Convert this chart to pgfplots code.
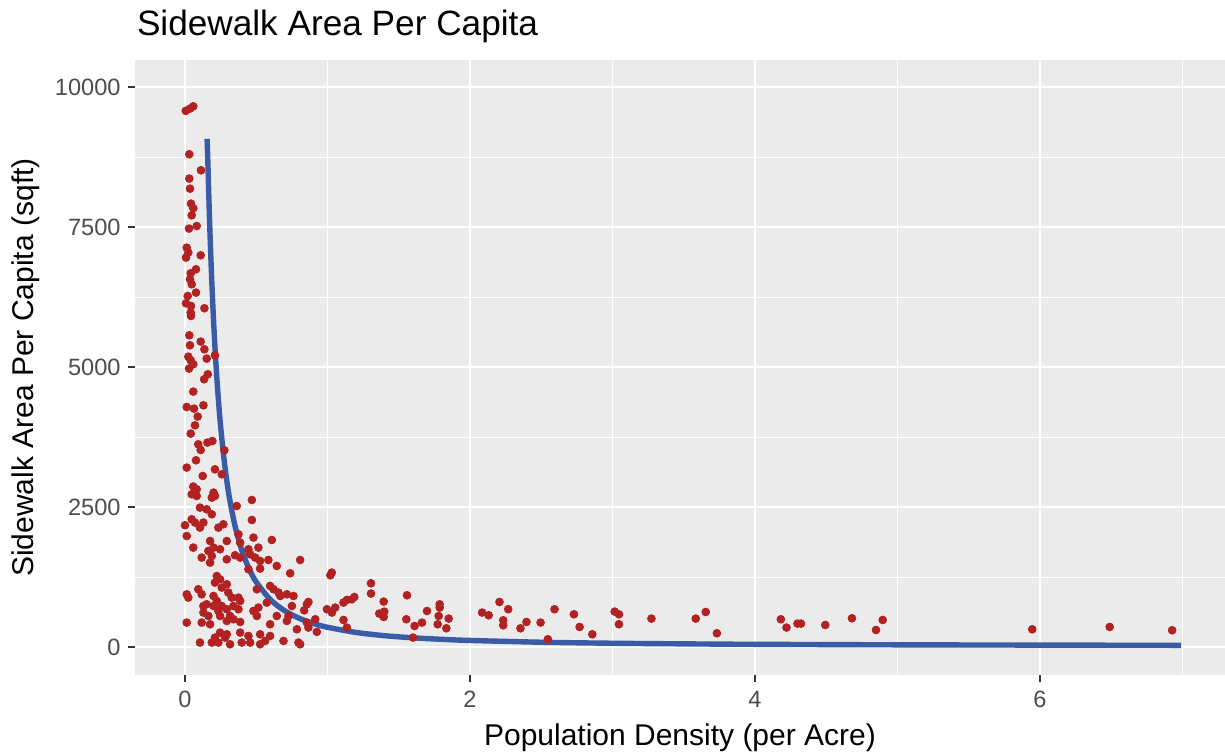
\documentclass[border=0pt]{standalone}
\usepackage{fontspec}
\setmainfont{Liberation Sans}
\usepackage{pgfplots}
\pgfplotsset{compat=1.18}
\definecolor{panelgray}{HTML}{EBEBEB}
\definecolor{ticklab}{HTML}{4D4D4D}
\definecolor{tickcol}{HTML}{333333}
\definecolor{ptred}{HTML}{B22222}
\definecolor{fitblue}{HTML}{3A5BA6}
\begin{document}
\begin{tikzpicture}
\path[use as bounding box] (0,0) rectangle (612.5pt,376.5pt);
\node[anchor=base west, inner sep=0pt, font=\fontsize{17.6}{20}\selectfont] at (68.3pt,358.5pt) {Sidewalk Area Per Capita};
\begin{axis}[
  at={(67.5pt,39pt)}, anchor=south west,
  scale only axis, width=545pt, height=307.5pt,
  xmin=-0.351, xmax=7.298, ymin=-495, ymax=10488,
  scaled x ticks=false, scaled y ticks=false,
  axis background/.style={fill=panelgray},
  axis line style={draw=none},
  xtick={0,2,4,6}, xticklabels={0,2,4,6},
  ytick={0,2500,5000,7500,10000}, yticklabels={0,2500,5000,7500,10000},
  minor xtick={1,3,5,7}, minor ytick={1250,3750,6250,8750},
  grid=both,
  major grid style={white, line width=1.1pt},
  minor grid style={white, line width=0.55pt},
  tick pos=left, tick align=outside,
  major tick length=0pt, minor tick length=0pt,
  tick style={draw=none},
  xticklabel style={font=\fontsize{11.8}{13}\selectfont, text=ticklab, anchor=north, inner sep=0pt, yshift=-7.8pt},
  yticklabel style={font=\fontsize{11.8}{13}\selectfont, text=ticklab, anchor=east, inner sep=0pt, xshift=-7pt},
  every axis x label/.style={at={(axis description cs:0.5,-0.1154)}, anchor=base, inner sep=0pt, font=\fontsize{15}{17}\selectfont},
  every axis y label/.style={at={(axis description cs:-0.0927,0.5)}, rotate=90, anchor=base, inner sep=0pt, font=\fontsize{15}{17}\selectfont},
  xlabel={Population Density (per Acre)},
  ylabel={Sidewalk Area Per Capita (sqft)},
  clip=false,
]
\pgfplotsinvokeforeach{0,2,4,6}{\draw[tickcol, line width=1pt] (axis cs:#1,-495) -- (axis cs:#1,-624);}
\pgfplotsinvokeforeach{0,2500,5000,7500,10000}{\draw[tickcol, line width=1pt] (axis cs:-0.351,#1) -- (axis cs:-0.4015,#1);}
\addplot[only marks, mark=*, mark size=1.95pt, color=ptred, mark options={draw=ptred, fill=ptred}] coordinates {
(0.005,9580) (0.035,9620) (0.058,9660) (0.03,8804) (0.112,8518) (0.03,8370) (0.035,8190) (0.042,7923)
(0.058,7840) (0.047,7714) (0.028,7477) (0.082,7523) (0.012,7137) (0.023,7048) (0.007,6959) (0.11,7000)
(0.077,6750) (0.04,6679) (0.035,6571) (0.047,6482) (0.077,6334) (0.019,6273) (0.007,6143) (0.042,6095)
(0.04,5977) (0.042,5917) (0.136,6054) (0.03,5571) (0.11,5459) (0.035,5393) (0.136,5321) (0.152,5155)
(0.21,5214) (0.023,5190) (0.04,5125) (0.058,5054) (0.028,4977) (0.16,4875) (0.134,4786) (0.058,4566)
(0.012,4291) (0.063,4262) (0.129,4321) (0.089,4120) (0.07,3964) (0.04,3816) (0.093,3625) (0.11,3523)
(0.157,3655) (0.192,3684) (0.276,3518) (0.077,3339) (0.012,3209) (0.21,3178) (0.258,3089) (0.124,3059)
(0.058,2870) (0.082,2821) (0.047,2732) (0.082,2702) (0.2,2762) (0.21,2702) (0.188,2673) (0.469,2630)
(0.363,2523) (0.105,2494) (0.152,2464) (0.188,2375) (0.047,2286) (0.07,2227) (0.105,2137) (0.129,2227)
(0.0,2179) (0.012,1987) (0.234,2137) (0.269,2196) (0.469,2273) (0.375,2018) (0.48,1959) (0.609,1916)
(0.058,1780) (0.176,1898) (0.2,1780) (0.246,1750) (0.164,1720) (0.293,1898) (0.387,1869) (0.445,1750)
(0.515,1780) (0.117,1602) (0.176,1512) (0.188,1630) (0.293,1571) (0.351,1643) (0.387,1602) (0.457,1661)
(0.492,1602) (0.527,1541) (0.585,1559) (0.808,1559) (0.644,1452) (0.527,1405) (0.445,1393) (0.738,1321)
(1.03,1334) (1.02,1286) (0.223,1273) (0.246,1214) (0.21,1155) (0.293,1125) (0.258,1066) (0.093,1036)
(0.117,946) (0.012,946) (0.023,887) (0.304,977) (0.328,887) (0.375,887) (0.387,827) (0.2,916)
(0.223,827) (0.504,1036) (0.597,1095) (0.621,1036) (0.656,977) (0.668,916) (0.715,946) (0.761,916)
(0.152,768) (0.2,737) (0.129,737) (0.258,737) (0.293,679) (0.34,737) (0.375,679) (0.574,798)
(0.75,737) (0.866,809) (0.855,768) (0.836,660) (0.48,648) (0.515,709) (0.234,648) (0.246,559)
(0.316,559) (0.129,620) (0.164,559) (0.012,441) (0.117,441) (0.176,411) (0.293,470) (0.387,452)
(0.34,500) (0.504,559) (0.597,411) (0.644,559) (0.726,559) (0.715,470) (0.855,441) (0.785,321)
(0.925,275) (0.246,262) (0.293,232) (0.387,262) (0.445,202) (0.527,232) (0.597,202) (0.105,84)
(0.188,84) (0.234,84) (0.316,54) (0.398,84) (0.457,84) (0.527,54) (0.562,113) (0.691,113)
(0.796,84) (0.21,173) (0.281,173) (1.305,1143) (1.305,959) (1.558,929) (1.394,816) (1.363,602)
(1.398,637) (1.394,541) (1.112,798) (1.136,845) (1.171,857) (1.188,898) (0.996,679) (1.031,620)
(1.054,709) (1.112,488) (1.136,352) (0.914,500) (0.866,352) (0.808,54) (1.553,500) (1.611,380)
(1.663,441) (1.6,173) (1.698,648) (1.787,768) (1.787,709) (1.78,559) (1.773,411) (1.85,512)
(1.834,339) (2.085,620) (2.131,571) (2.207,809) (2.268,679) (2.233,482) (2.233,393) (2.354,339)
(2.396,452) (2.495,441) (2.546,143) (2.593,679) (2.729,589) (2.769,363) (2.858,232) (3.015,637)
(3.045,589) (3.045,411) (3.273,512) (3.584,512) (3.654,630) (3.732,250) (4.181,500) (4.221,352)
(4.298,423) (4.322,423) (4.493,398) (4.68,518) (4.896,488) (4.849,309) (5.945,321) (6.489,363)
(6.927,304)
};
\addplot[smooth, color=fitblue, line width=2.7pt] coordinates {
(0.155,9080) (0.16,8690) (0.17,7804) (0.18,7053) (0.19,6407) (0.2,5852) (0.21,5364) (0.22,4942)
(0.23,4567) (0.25,3940) (0.28,3226) (0.31,2695) (0.35,2176) (0.4,1721) (0.45,1401) (0.5,1165)
(0.6,849) (0.7,651) (0.8,519) (0.9,425) (1.0,357) (1.2,265) (1.4,207) (1.6,169) (1.8,142)
(2.0,122) (2.5,90) (3,72) (3.5,61) (4,53) (5,44) (6,39) (6.99,35)
};
\end{axis}
\end{tikzpicture}
\end{document}
